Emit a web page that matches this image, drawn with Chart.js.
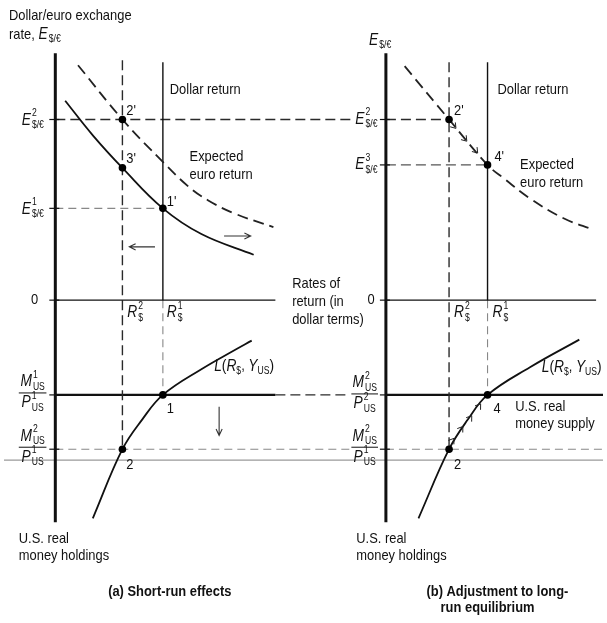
<!DOCTYPE html>
<html>
<head>
<meta charset="utf-8">
<script src="https://cdn.jsdelivr.net/npm/chart.js@4"></script>
<style>
  html, body { margin: 0; padding: 0; background: #fff; }
  #c { display: block; }
</style>
</head>
<body>
<canvas id="c" width="607" height="623"></canvas>
<script>
// 数据：x 为收益率方向，y 以 0 收益率轴为基准（上为汇率，下为实际货币）

// 收益率 R$2、R$1（(a)、(b) 两图）
const rateR2 = [120, 451];
const rateR1 = [161, 490];
// 汇率水平 E2、E1、E3
const exLevels = [183, 93, 137];
// 实际货币水平 M1/P1（= M2/P2）、M2/P1
const moneyLevels = [-96, -151];

// (a) 原预期欧元收益曲线（实线）
const euroOldX = [62, 90, 120, 161, 200, 253];
const euroOldY = [202, 167, 134, 93, 67, 46];
// (a) 新预期欧元收益曲线（虚线）
const euroNewX = [75, 120, 161, 187, 207, 233, 273];
const euroNewY = [238, 183, 140, 115, 101, 88, 74];
// (b) 预期欧元收益曲线（虚线）
const euroBX = [406, 451, 490, 507, 533, 567, 598];
const euroBY = [237, 183, 137, 123, 103, 83, 71];
// 货币需求 L(R$, YUS)
const demandAX = [90, 120, 140, 161, 200, 233, 251];
const demandAY = [-221, -151, -121, -96, -70, -51, -41];
const demandBX = [420, 451, 470, 490, 533, 583];
const demandBY = [-221, -151, -121, -96, -68, -40];

// 坐标轴位置
const axisX = [52, 387];
const axisTop = 250, axisBottom = -225;

const FONT = '"Liberation Sans", Arial, sans-serif';
const SX = 0.86;

const INK = '#111';
const solid = { color: INK, width: 1.4 };
const axisStyle = { color: INK, width: 3 };
const thick = { color: INK, width: 2.4 };
const darkDash = { color: '#2a2a2a', width: 1.4, dash: [10, 5] };
const grayDash = { color: '#888', width: 1.1, dash: [8, 5] };
const curveStyle = { color: INK, width: 1.8 };
const curveDash = { color: '#222', width: 1.8, dash: [11, 6] };

const datasets = [];

function addLine(xs, ys, st, smooth) {
    datasets.push({
        data: xs.map((x, i) => ({ x: x, y: ys[i] })),
        showLine: true,
        pointRadius: 0,
        borderColor: st.color,
        borderWidth: st.width,
        borderDash: st.dash || [],
        tension: smooth ? 0.4 : 0,
        fill: false
    });
}

// 均衡点
datasets.push({
    data: [
        { x: rateR2[0], y: exLevels[0] },
        { x: rateR2[0], y: euroOldY[2] },
        { x: rateR1[0], y: exLevels[1] },
        { x: rateR1[0], y: moneyLevels[0] },
        { x: rateR2[0], y: moneyLevels[1] },
        { x: rateR2[1], y: exLevels[0] },
        { x: rateR1[1], y: exLevels[2] },
        { x: rateR1[1], y: moneyLevels[0] },
        { x: rateR2[1], y: moneyLevels[1] }
    ],
    showLine: false,
    pointRadius: 3.8,
    pointBackgroundColor: '#000',
    pointBorderWidth: 0
});

// 曲线
addLine(euroOldX, euroOldY, curveStyle, true);
addLine(euroNewX, euroNewY, curveDash, true);
addLine(euroBX, euroBY, curveDash, true);
addLine(demandAX, demandAY, curveStyle, true);
addLine(demandBX, demandBY, curveStyle, true);

// 坐标轴与零收益线
addLine([axisX[0], axisX[0]], [axisTop, axisBottom], axisStyle);
addLine([axisX[1], axisX[1]], [axisTop, axisBottom], axisStyle);
addLine([axisX[0], 275], [0, 0], solid);
addLine([axisX[1], 600], [0, 0], solid);

// 美元收益线与虚线
addLine([rateR1[0], rateR1[0]], [241, 0], solid);
addLine([rateR1[1], rateR1[1]], [241, 0], solid);
addLine([rateR1[0], rateR1[0]], [0, moneyLevels[0]], grayDash);
addLine([rateR1[1], rateR1[1]], [0, moneyLevels[0]], grayDash);
addLine([rateR2[0], rateR2[0]], [243, moneyLevels[1]], darkDash);
addLine([rateR2[1], rateR2[1]], [241, moneyLevels[1]], darkDash);

// 汇率水平线
addLine([axisX[0], 352], [exLevels[0], exLevels[0]], darkDash);
addLine([axisX[1], rateR2[1]], [exLevels[0], exLevels[0]], darkDash);
addLine([axisX[0], rateR1[0]], [exLevels[1], exLevels[1]], grayDash);
addLine([axisX[1], rateR1[1]], [exLevels[2], exLevels[2]], { color: '#555', width: 1.3, dash: [10, 5] });

// 货币供给线
addLine([axisX[0], 275], [moneyLevels[0], moneyLevels[0]], thick);
addLine([275, 350], [moneyLevels[0], moneyLevels[0]], darkDash);
addLine([axisX[1], 607], [moneyLevels[0], moneyLevels[0]], thick);
addLine([axisX[0], 352], [moneyLevels[1], moneyLevels[1]], grayDash);
addLine([axisX[1], 607], [moneyLevels[1], moneyLevels[1]], grayDash);
addLine([0, 607], [-162, -162], { color: '#9a9a9a', width: 1.2 });

// 文字注释
const plainNotes = [
    { s: 'Dollar/euro exchange', x: 5, y: 288 },
    { s: 'rate,', x: 5, y: 269 },
    { s: 'Dollar return', x: 168, y: 213 },
    { s: 'Expected', x: 188, y: 145 },
    { s: 'euro return', x: 188, y: 127 },
    { s: 'Rates of', x: 292, y: 17 },
    { s: 'return (in', x: 292, y: -2 },
    { s: 'dollar terms)', x: 292, y: -20 },
    { s: '0', x: 31, y: 0, align: 'center' },
    { s: '0', x: 372, y: 0, align: 'center' },
    { s: 'U.S. real', x: 15, y: -242 },
    { s: 'money holdings', x: 15, y: -259 },
    { s: 'U.S. real', x: 357, y: -242 },
    { s: 'money holdings', x: 357, y: -259 },
    { s: 'U.S. real', x: 518, y: -108 },
    { s: 'money supply', x: 518, y: -125 },
    { s: 'Dollar return', x: 500, y: 213 },
    { s: 'Expected', x: 523, y: 137 },
    { s: 'euro return', x: 523, y: 119 },
    { s: "2'", x: 124, y: 192 },
    { s: "3'", x: 124, y: 143 },
    { s: "1'", x: 165, y: 100 },
    { s: '1', x: 165, y: -110 },
    { s: '2', x: 124, y: -167 },
    { s: "2'", x: 456, y: 192 },
    { s: "4'", x: 497, y: 145 },
    { s: '4', x: 496, y: -110 },
    { s: '2', x: 456, y: -167 },
    { s: '(a) Short-run effects', x: 168, y: -295, align: 'center', bold: true },
    { s: '(b) Adjustment to long-', x: 500, y: -295, align: 'center', bold: true },
    { s: 'run equilibrium', x: 490, y: -312, align: 'center', bold: true }
];

const mathNotes = [
    { m: ['E', '', '$/\u20ac'], x: 35, y: 269 },
    { m: ['E', '', '$/\u20ac'], x: 370, y: 263 },
    { m: ['E', '2', '$/\u20ac'], x: 18, y: 182 },
    { m: ['E', '1', '$/\u20ac'], x: 18, y: 92 },
    { m: ['E', '2', '$/\u20ac'], x: 356, y: 183 },
    { m: ['E', '3', '$/\u20ac'], x: 356, y: 137 },
    { m: ['R', '2', '$'], x: 125, y: -13 },
    { m: ['R', '1', '$'], x: 165, y: -13 },
    { m: ['R', '2', '$'], x: 456, y: -13 },
    { m: ['R', '1', '$'], x: 495, y: -13 }
];

const fracNotes = [
    { top: ['M', '1', 'US'], bot: ['P', '1', 'US'], x1: 15, x2: 43, y: -94 },
    { top: ['M', '2', 'US'], bot: ['P', '1', 'US'], x1: 15, x2: 43, y: -149 },
    { top: ['M', '2', 'US'], bot: ['P', '2', 'US'], x1: 352, x2: 379, y: -95 },
    { top: ['M', '2', 'US'], bot: ['P', '1', 'US'], x1: 352, x2: 379, y: -149 }
];

const demandNotes = [{ x: 213, y: -67 }, { x: 545, y: -68 }];

// 箭头 [x1, y1, x2, y2]
const arrows = [
    [153, 54, 127, 54],
    [223, 65, 250, 65],
    [218, -108, 218, -137]
];
// 调整路径上的小箭头
const adjustMarks = [
    { x: 458, y: 174, dir: [rateR2[1], exLevels[0], rateR1[1], exLevels[2]] },
    { x: 469, y: 161, dir: [rateR2[1], exLevels[0], rateR1[1], exLevels[2]] },
    { x: 480, y: 149, dir: [rateR2[1], exLevels[0], rateR1[1], exLevels[2]] },
    { x: 456, y: -140, dir: [rateR2[1], moneyLevels[1], rateR1[1], moneyLevels[0]] },
    { x: 465, y: -128, dir: [rateR2[1], moneyLevels[1], rateR1[1], moneyLevels[0]] },
    { x: 474, y: -117, dir: [rateR2[1], moneyLevels[1], rateR1[1], moneyLevels[0]] },
    { x: 483, y: -105, dir: [rateR2[1], moneyLevels[1], rateR1[1], moneyLevels[0]] }
];
// 轴上刻度
const ticks = [
    [axisX[0], exLevels[0]], [axisX[0], exLevels[1]], [axisX[0], 0],
    [axisX[0], moneyLevels[0]], [axisX[0], moneyLevels[1]],
    [axisX[1], exLevels[0]], [axisX[1], exLevels[2]], [axisX[1], 0],
    [axisX[1], moneyLevels[0]], [axisX[1], moneyLevels[1]]
];

function measure(ctx, s, size, style) {
    ctx.font = (style || '') + ' ' + size + 'px ' + FONT;
    return ctx.measureText(s).width * SX;
}

function text(ctx, s, x, y, size, style, align) {
    const w = measure(ctx, s, size, style);
    const x0 = align === 'center' ? x - w / 2 : align === 'right' ? x - w : x;
    ctx.save();
    ctx.font = (style || '') + ' ' + size + 'px ' + FONT;
    ctx.textAlign = 'left';
    ctx.textBaseline = 'middle';
    ctx.translate(x0, y);
    ctx.scale(SX, 1);
    ctx.fillText(s, 0, 0);
    ctx.restore();
    return w;
}

function mathWidth(ctx, m) {
    const bw = measure(ctx, m[0], 16, 'italic');
    const sw = Math.max(measure(ctx, m[1], 10), measure(ctx, m[2], 10));
    return bw + 1 + sw;
}

function drawMath(ctx, m, x, y) {
    const bw = text(ctx, m[0], x, y, 16, 'italic');
    if (m[1]) text(ctx, m[1], x + bw + 1, y - 7, 10);
    if (m[2]) text(ctx, m[2], x + bw + 1, y + 5, 10);
}

const notesPlugin = {
    id: 'notes',
    afterDatasetsDraw(chart) {
        const ctx = chart.ctx;
        const sx = v => chart.scales.x.getPixelForValue(v);
        const sy = v => chart.scales.y.getPixelForValue(v);
        ctx.save();
        ctx.fillStyle = INK;
        ctx.strokeStyle = INK;

        // 刻度
        ctx.lineWidth = 1.2;
        ticks.forEach(t => {
            ctx.beginPath();
            ctx.moveTo(sx(t[0]) - 6, sy(t[1]));
            ctx.lineTo(sx(t[0]) + 4, sy(t[1]));
            ctx.stroke();
        });

        plainNotes.forEach(n => {
            text(ctx, n.s, sx(n.x), sy(n.y), 15, n.bold ? 'bold' : '', n.align);
        });
        mathNotes.forEach(n => drawMath(ctx, n.m, sx(n.x), sy(n.y)));

        // 分式
        fracNotes.forEach(f => {
            const x1 = sx(f.x1), x2 = sx(f.x2), y = sy(f.y);
            ctx.lineWidth = 1;
            ctx.beginPath();
            ctx.moveTo(x1, y);
            ctx.lineTo(x2, y);
            ctx.stroke();
            const cx = (x1 + x2) / 2;
            drawMath(ctx, f.top, cx - mathWidth(ctx, f.top) / 2, y - 11);
            drawMath(ctx, f.bot, cx - mathWidth(ctx, f.bot) / 2, y + 10);
        });

        // L(R$, YUS)
        demandNotes.forEach(n => {
            let x = sx(n.x);
            const y = sy(n.y);
            x += text(ctx, 'L', x, y, 16, 'italic');
            x += text(ctx, '(', x, y, 16, '');
            x += text(ctx, 'R', x, y, 16, 'italic');
            x += text(ctx, '$', x, y + 5, 10, '');
            x += text(ctx, ', ', x, y, 15, '');
            x += text(ctx, 'Y', x, y, 16, 'italic');
            x += text(ctx, 'US', x, y + 5, 10, '');
            text(ctx, ')', x, y, 16, '');
        });

        // 箭头
        ctx.strokeStyle = '#333';
        ctx.lineWidth = 1.1;
        arrows.forEach(a => {
            const x1 = sx(a[0]), y1 = sy(a[1]), x2 = sx(a[2]), y2 = sy(a[3]);
            const ang = Math.atan2(y2 - y1, x2 - x1);
            ctx.beginPath();
            ctx.moveTo(x1, y1);
            ctx.lineTo(x2, y2);
            ctx.moveTo(x2 - 7 * Math.cos(ang - 0.45), y2 - 7 * Math.sin(ang - 0.45));
            ctx.lineTo(x2, y2);
            ctx.lineTo(x2 - 7 * Math.cos(ang + 0.45), y2 - 7 * Math.sin(ang + 0.45));
            ctx.stroke();
        });

        // 调整小箭头
        ctx.strokeStyle = '#222';
        ctx.lineWidth = 1;
        adjustMarks.forEach(k => {
            const d = k.dir;
            const ang = Math.atan2(sy(d[3]) - sy(d[1]), sx(d[2]) - sx(d[0]));
            const x = sx(k.x), y = sy(k.y);
            ctx.beginPath();
            ctx.moveTo(x - 6 * Math.cos(ang - 0.6), y - 6 * Math.sin(ang - 0.6));
            ctx.lineTo(x, y);
            ctx.lineTo(x - 6 * Math.cos(ang + 0.6), y - 6 * Math.sin(ang + 0.6));
            ctx.stroke();
        });
        ctx.restore();
    }
};

new Chart(document.getElementById('c'), {
    type: 'scatter',
    data: { datasets: datasets },
    options: {
        responsive: false,
        animation: false,
        devicePixelRatio: 1,
        layout: { padding: 0 },
        plugins: {
            legend: { display: false },
            tooltip: { enabled: false }
        },
        scales: {
            x: { type: 'linear', min: 0, max: 607, display: false },
            y: { type: 'linear', min: -323, max: 300, display: false }
        }
    },
    plugins: [notesPlugin]
});
</script>
</body>
</html>
